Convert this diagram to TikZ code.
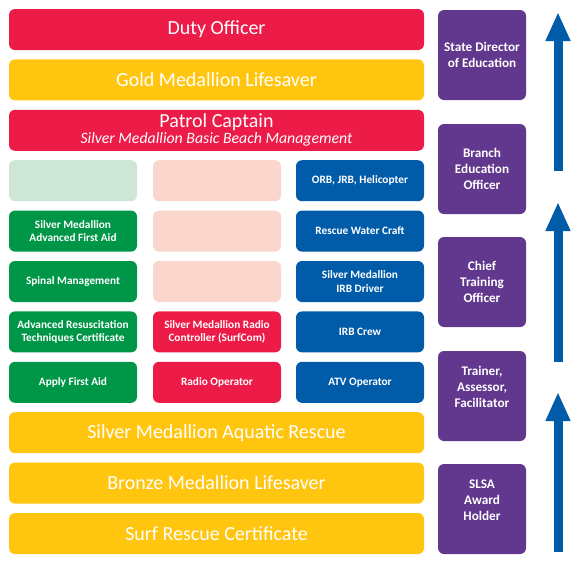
\documentclass[tikz,border=0pt]{standalone}
\usepackage{fontspec}
\setmainfont{Carlito}
\usetikzlibrary{arrows.meta}
\definecolor{cred}{RGB}{237,27,71}
\definecolor{cyellow}{RGB}{255,197,15}
\definecolor{cgreen}{RGB}{0,150,72}
\definecolor{cblue}{RGB}{0,92,169}
\definecolor{cpurple}{RGB}{97,56,141}
\definecolor{cpalegreen}{RGB}{205,230,214}
\definecolor{cpalepink}{RGB}{250,214,205}
\tikzset{
  box/.style={rounded corners=6pt, inner sep=0pt, text=white, align=center, minimum height=41pt},
  bar/.style={box, minimum width=415pt, font=\fontsize{20}{21}\selectfont},
  cell/.style={box, minimum width=128pt, font=\bfseries\fontsize{11.3}{13.5}\selectfont},
  role/.style={box, fill=cpurple, minimum width=88pt, minimum height=90pt, font=\bfseries\fontsize{13.2}{15.8}\selectfont},
  uparrow/.style={draw=cblue, line width=9pt, -{Triangle[width=23pt,length=29pt]}}
}
\begin{document}
\begin{tikzpicture}[x=1pt,y=-1pt]
\useasboundingbox (0,0) rectangle (578,571);
% wide bars
\node[bar, fill=cred] (duty) at (216.5,29.5) {Duty Officer};
\node[bar, fill=cyellow] (gold) at (216.5,79.9) {Gold Medallion Lifesaver};
\node[bar, fill=cred, align=center] (patrol) at (216.5,130.3)
  {Patrol Captain\\[-5pt]{\itshape\fontsize{15.8}{16}\selectfont Silver Medallion Basic Beach Management}};
\node[bar, fill=cyellow] (smar) at (216.5,432.7) {Silver Medallion Aquatic Rescue};
\node[bar, fill=cyellow] (bronze) at (216.5,483.1) {Bronze Medallion Lifesaver};
\node[bar, fill=cyellow] (src) at (216.5,533.5) {Surf Rescue Certificate};
% column 1
\node[cell, fill=cpalegreen] (g1) at (73,180.7) {};
\node[cell, fill=cgreen] (g2) at (73,231.1) {Silver Medallion\\Advanced First Aid};
\node[cell, fill=cgreen] (g3) at (73,281.5) {Spinal Management};
\node[cell, fill=cgreen] (g4) at (73,331.9) {Advanced Resuscitation\\Techniques Certificate};
\node[cell, fill=cgreen] (g5) at (73,382.3) {Apply First Aid};
% column 2
\node[cell, fill=cpalepink] (r1) at (217,180.7) {};
\node[cell, fill=cpalepink] (r2) at (217,231.1) {};
\node[cell, fill=cpalepink] (r3) at (217,281.5) {};
\node[cell, fill=cred] (r4) at (217,331.9) {Silver Medallion Radio\\Controller (SurfCom)};
\node[cell, fill=cred] (r5) at (217,382.3) {Radio Operator};
% column 3
\node[cell, fill=cblue] (b1) at (360,180.7) {ORB, JRB, Helicopter};
\node[cell, fill=cblue] (b2) at (360,231.1) {Rescue Water Craft};
\node[cell, fill=cblue] (b3) at (360,281.5) {Silver Medallion\\IRB Driver};
\node[cell, fill=cblue] (b4) at (360,331.9) {IRB Crew};
\node[cell, fill=cblue] (b5) at (360,382.3) {ATV Operator};
% roles
\node[role] (p1) at (482,55) {State Director\\of Education};
\node[role] (p2) at (482,169) {Branch\\Education\\Officer};
\node[role] (p3) at (482,282) {Chief\\Training\\Officer};
\node[role, text depth=18pt] (p4) at (482,396) {Trainer,\\Assessor,\\Facilitator};
\node[role, text depth=18pt] (p5) at (482,509) {SLSA\\Award\\Holder};
% arrows
\coordinate (a1s) at (558,171);
\coordinate (a1e) at (558,12);
\coordinate (a2s) at (558,362);
\coordinate (a2e) at (558,202);
\coordinate (a3s) at (558,552);
\coordinate (a3e) at (558,392);
\draw[uparrow] (a1s) -- (a1e);
\draw[uparrow] (a2s) -- (a2e);
\draw[uparrow] (a3s) -- (a3e);
\end{tikzpicture}
\end{document}
